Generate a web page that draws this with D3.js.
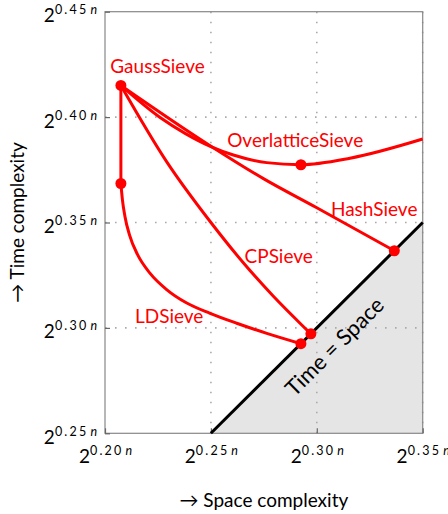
<!DOCTYPE html>
<html>
<head>
<meta charset="utf-8">
<script src="https://cdn.jsdelivr.net/npm/d3@7/dist/d3.min.js"></script>
<style>
  html, body { margin: 0; padding: 0; background: #fff; }
  svg { display: block; font-family: Lato, "Open Sans", sans-serif; }
</style>
</head>
<body>
<svg id="chart" width="448" height="514"></svg>
<script>
// tick values (exponents of 2^(c n))
var xTicks = [0.20, 0.25, 0.30, 0.35];
var yTicks = [0.25, 0.30, 0.35, 0.40, 0.45];

// [space exponent, time exponent]
var gaussToLd = [[0.2075, 0.4150], [0.2075, 0.3685]];
var hashSieve = [[0.2075, 0.4150], [0.2500, 0.3862], [0.2750, 0.3707], [0.3000, 0.3570], [0.3366, 0.3366]];
var overlatticeSieve = [[0.2075, 0.4150], [0.2260, 0.3998], [0.2378, 0.3923], [0.2500, 0.3860], [0.2606, 0.3820],
                        [0.2763, 0.3784], [0.2925, 0.3774], [0.3157, 0.3805], [0.3500, 0.3896]];
var cpSieve = [[0.2075, 0.4150], [0.2290, 0.3790], [0.2500, 0.3500], [0.2653, 0.3309], [0.2795, 0.3150],
               [0.2929, 0.3014], [0.2972, 0.2972]];
var ldSieve = [[0.2075, 0.3685], [0.2082, 0.3610], [0.2094, 0.3530], [0.2116, 0.3440], [0.2155, 0.3345],
               [0.2212, 0.3260], [0.2291, 0.3182], [0.2386, 0.3118], [0.2496, 0.3069], [0.2622, 0.3022],
               [0.2764, 0.2974], [0.2925, 0.2925]];
var sievePoints = [[0.2075, 0.4150], [0.2075, 0.3685], [0.2925, 0.3774], [0.3366, 0.3366], [0.2972, 0.2972], [0.2925, 0.2925]];
var timeEqualsSpace = [[0.25, 0.25], [0.35, 0.35]];

// label text with its anchor (in data units)
var labels = [
    {text: 'GaussSieve', at: [0.2248, 0.4207]},
    {text: 'OverlatticeSieve', at: [0.2898, 0.3857]},
    {text: 'HashSieve', at: [0.3271, 0.3532]},
    {text: 'CPSieve', at: [0.2820, 0.3306]},
    {text: 'LDSieve', at: [0.2303, 0.3025]}
];

var svg = d3.select('#chart');
var x = d3.scaleLinear().domain([0.20, 0.35]).range([105, 422.7]);
var y = d3.scaleLinear().domain([0.25, 0.45]).range([433.3, 11.7]);
var red = '#ff0000';

var line = d3.line().x(function(d){ return x(d[0]); }).y(function(d){ return y(d[1]); });
var smooth = d3.line().x(function(d){ return x(d[0]); }).y(function(d){ return y(d[1]); })
    .curve(d3.curveMonotoneX);

// shaded region below time = space
svg.append('path')
    .attr('d', line([[0.25, 0.25], [0.35, 0.35], [0.35, 0.25]]) + 'Z')
    .attr('fill', '#e5e5e5');

// grid
svg.append('g').selectAll('line').data(xTicks.slice(1)).enter().append('line')
    .attr('x1', function(d){ return x(d); }).attr('x2', function(d){ return x(d); })
    .attr('y1', y(0.25)).attr('y2', y(0.45))
    .attr('stroke', '#aaa').attr('stroke-width', 1.6).attr('stroke-dasharray', '1.6,8.4');
svg.append('g').selectAll('line').data(yTicks.slice(1, -1)).enter().append('line')
    .attr('y1', function(d){ return y(d); }).attr('y2', function(d){ return y(d); })
    .attr('x1', x(0.20)).attr('x2', x(0.35))
    .attr('stroke', '#aaa').attr('stroke-width', 1.6).attr('stroke-dasharray', '1.6,8.4');

// frame
svg.append('rect')
    .attr('x', x(0.20)).attr('y', y(0.45))
    .attr('width', x(0.35) - x(0.20)).attr('height', y(0.25) - y(0.45))
    .attr('fill', 'none').attr('stroke', '#888').attr('stroke-width', 1.2);

function supLabel(text, d) {
    text.text(null);
    text.append('tspan').text('2');
    var s = text.append('tspan').attr('dy', -8).attr('font-size', 12.5)
        .attr('letter-spacing', 2.2);
    s.text(d.toFixed(2));
    s.append('tspan').attr('dx', 2).attr('font-style', 'italic').attr('letter-spacing', 0).text('n');
}

var yAxis = svg.append('g')
    .attr('transform', 'translate(' + x(0.20) + ',0)')
    .call(d3.axisLeft(y).tickValues(yTicks).tickSize(-5).tickPadding(8));
var xAxis = svg.append('g')
    .attr('transform', 'translate(0,' + y(0.25) + ')')
    .call(d3.axisBottom(x).tickValues(xTicks).tickSize(-5).tickPadding(8));

[yAxis, xAxis].forEach(function(a, i){
    a.select('.domain').remove();
    a.selectAll('.tick line').attr('stroke', '#666').attr('stroke-width', 1.2);
    a.selectAll('.tick text')
        .attr('font-family', 'Lato, sans-serif')
        .attr('font-size', 19)
        .attr('fill', '#000')
        .attr('dy', 0)
        .attr('y', i === 0 ? 10 : 30)
        .each(function(d){ supLabel(d3.select(this), d); });
});

// time = space
svg.append('path').attr('d', line(timeEqualsSpace))
    .attr('stroke', '#000').attr('stroke-width', 3).attr('fill', 'none');
svg.append('text')
    .attr('transform', 'translate(' + x(0.3081) + ',' + y(0.2914) + ') rotate(-45)')
    .attr('text-anchor', 'middle').attr('dominant-baseline', 'central')
    .attr('font-size', 22).attr('fill', '#000')
    .text('Time = Space');

// trade-off curves
svg.append('path').attr('d', line(gaussToLd))
    .attr('stroke', red).attr('stroke-width', 3).attr('fill', 'none');
svg.selectAll('path.curve').data([hashSieve, overlatticeSieve, cpSieve, ldSieve]).enter().append('path')
    .attr('class', 'curve')
    .attr('d', smooth)
    .attr('stroke', red).attr('stroke-width', 3).attr('fill', 'none')
    .attr('stroke-linejoin', 'round');

svg.selectAll('circle').data(sievePoints).enter().append('circle')
    .attr('cx', function(d){ return x(d[0]); })
    .attr('cy', function(d){ return y(d[1]); })
    .attr('r', 5.5)
    .attr('fill', red);

svg.selectAll('text.sieve').data(labels).enter().append('text')
    .attr('class', 'sieve')
    .attr('x', function(d){ return x(d.at[0]); })
    .attr('y', function(d){ return y(d.at[1]); })
    .attr('text-anchor', 'middle')
    .attr('font-size', 19)
    .attr('fill', red)
    .text(function(d){ return d.text; });

// axis titles
svg.append('text')
    .attr('transform', 'translate(24,' + ((y(0.25) + y(0.45)) / 2) + ') rotate(-90)')
    .attr('text-anchor', 'middle').attr('font-size', 19)
    .text('\u2192 Time complexity');
svg.append('text')
    .attr('x', (x(0.20) + x(0.35)) / 2).attr('y', 507)
    .attr('text-anchor', 'middle').attr('font-size', 19)
    .text('\u2192 Space complexity');
</script>
</body>
</html>
